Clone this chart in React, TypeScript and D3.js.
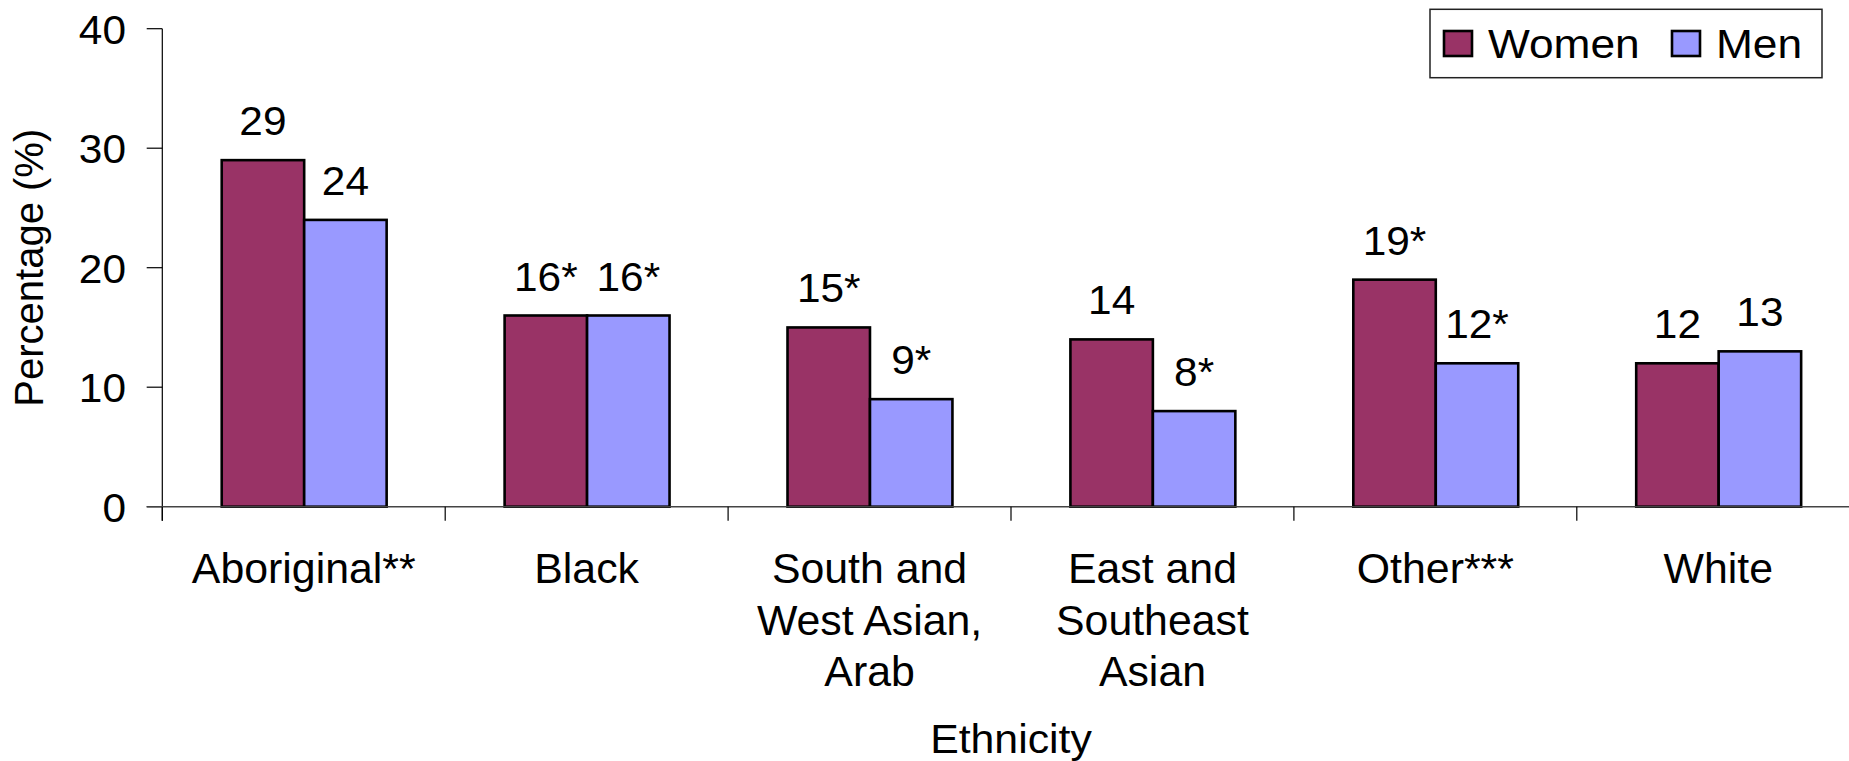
import React from "react";
import * as d3 from "d3";

const categories = [
  "Aboriginal**",
  "Black",
  "South and\nWest Asian,\nArab",
  "East and\nSoutheast\nAsian",
  "Other***",
  "White",
];
const seriesNames = ["Women", "Men"];
const womenValues = [29, 16, 15, 14, 19, 12];
const menValues = [24, 16, 9, 8, 12, 13];
const womenLabels = ["29", "16*", "15*", "14", "19*", "12"];
const menLabels = ["24", "16*", "9*", "8*", "12*", "13"];
const yTicks = [0, 10, 20, 30, 40];
const colors = ["#993366", "#9999FF"];

const W = 1849;
const H = 761;
const FONT = "'Liberation Sans', Arial, sans-serif";

function SText(props: {
  x: number;
  y: number;
  sx?: number;
  size: number;
  anchor?: "start" | "middle" | "end";
  children: React.ReactNode;
}) {
  const { x, y, sx = 1, size, anchor = "start", children } = props;
  return (
    <g transform={`translate(${x},${y}) scale(${sx},1)`}>
      <text x={0} y={0} textAnchor={anchor} fontSize={size} fill="#000">
        {children}
      </text>
    </g>
  );
}

export default function App() {
  const plotLeft = 162.3;
  const plotTop = 28.7;
  const plotBottom = 506.7;
  const step = 282.9;
  const plotRight = plotLeft + step * categories.length;

  const x0 = d3.scaleBand<string>().domain(categories).range([plotLeft, plotRight]).padding(0);
  const bw = x0.bandwidth();
  const x1 = d3.scaleBand<string>().domain(seriesNames).range([bw * 0.21, bw * 0.793]).padding(0);
  const y = d3.scaleLinear().domain([0, 40]).range([plotBottom, plotTop]);

  const seriesVals = [womenValues, menValues];
  const seriesLabels = [womenLabels, menLabels];

  const boundaries = d3.range(categories.length + 1).map((i) => plotLeft + i * bw);

  return (
    <div style={{ position: "fixed", left: 0, top: 0, width: W, height: H, background: "#fff" }}>
      <svg width={W} height={H} style={{ display: "block" }} fontFamily={FONT}>
        <rect x={0} y={0} width={W} height={H} fill="#fff" />
        {/* bars */}
        {categories.map((c, ci) =>
          seriesNames.map((s, si) => {
            const v = seriesVals[si][ci];
            const bx = (x0(c) as number) + (x1(s) as number);
            return (
              <rect
                key={c + s}
                x={bx}
                y={y(v)}
                width={x1.bandwidth()}
                height={y(0) - y(v)}
                fill={colors[si]}
                stroke="#000"
                strokeWidth={2.6}
              />
            );
          })
        )}
        {/* data labels */}
        {categories.map((c, ci) =>
          seriesNames.map((s, si) => {
            const v = seriesVals[si][ci];
            const cx = (x0(c) as number) + (x1(s) as number) + x1.bandwidth() / 2;
            return (
              <SText key={"l" + c + s} x={cx} y={y(v) - 25} sx={1.06} size={40} anchor="middle">
                {seriesLabels[si][ci]}
              </SText>
            );
          })
        )}
        {/* y axis */}
        <line x1={plotLeft} x2={plotLeft} y1={plotTop} y2={plotBottom + 14} stroke="#000" strokeWidth={1.2} />
        {yTicks.map((t) => (
          <g key={"t" + t}>
            <line x1={plotLeft - 15.6} x2={plotLeft} y1={y(t)} y2={y(t)} stroke="#000" strokeWidth={1.2} />
            <SText x={126} y={y(t) + 15} sx={1.06} size={40} anchor="end">
              {t}
            </SText>
          </g>
        ))}
        {/* x axis */}
        <line x1={plotLeft - 15.6} x2={plotRight} y1={plotBottom} y2={plotBottom} stroke="#444" strokeWidth={1.4} />
        {boundaries.map((b, i) => (
          <line key={"b" + i} x1={b} x2={b} y1={plotBottom} y2={plotBottom + 14} stroke="#000" strokeWidth={1.2} />
        ))}
        {/* category labels */}
        {categories.map((c) => {
          const cx = (x0(c) as number) + bw / 2;
          const lines = c.split("\n");
          return (
            <g key={"c" + c}>
              {lines.map((ln, li) => (
                <SText key={li} x={cx} y={583 + li * 51.5} sx={1.02} size={42} anchor="middle">
                  {ln}
                </SText>
              ))}
            </g>
          );
        })}
        {/* axis titles */}
        <SText x={(plotLeft + plotRight) / 2} y={753} sx={1.07} size={40} anchor="middle">
          Ethnicity
        </SText>
        <g transform={`translate(43, ${(plotTop + plotBottom) / 2}) rotate(-90)`}>
          <text x={0} y={0} textAnchor="middle" fontSize={40} fill="#000">
            Percentage (%)
          </text>
        </g>
        {/* legend */}
        <rect x={1430} y={9.3} width={392} height={68.4} fill="#fff" stroke="#222" strokeWidth={1.5} />
        {seriesNames.map((s, si) => {
          const lx = si === 0 ? 1444 : 1672;
          return (
            <g key={"lg" + s}>
              <rect x={lx} y={31} width={28} height={25} fill={colors[si]} stroke="#000" strokeWidth={2.6} />
              <SText x={lx + 44} y={58} sx={1.08} size={41}>
                {s}
              </SText>
            </g>
          );
        })}
      </svg>
    </div>
  );
}
